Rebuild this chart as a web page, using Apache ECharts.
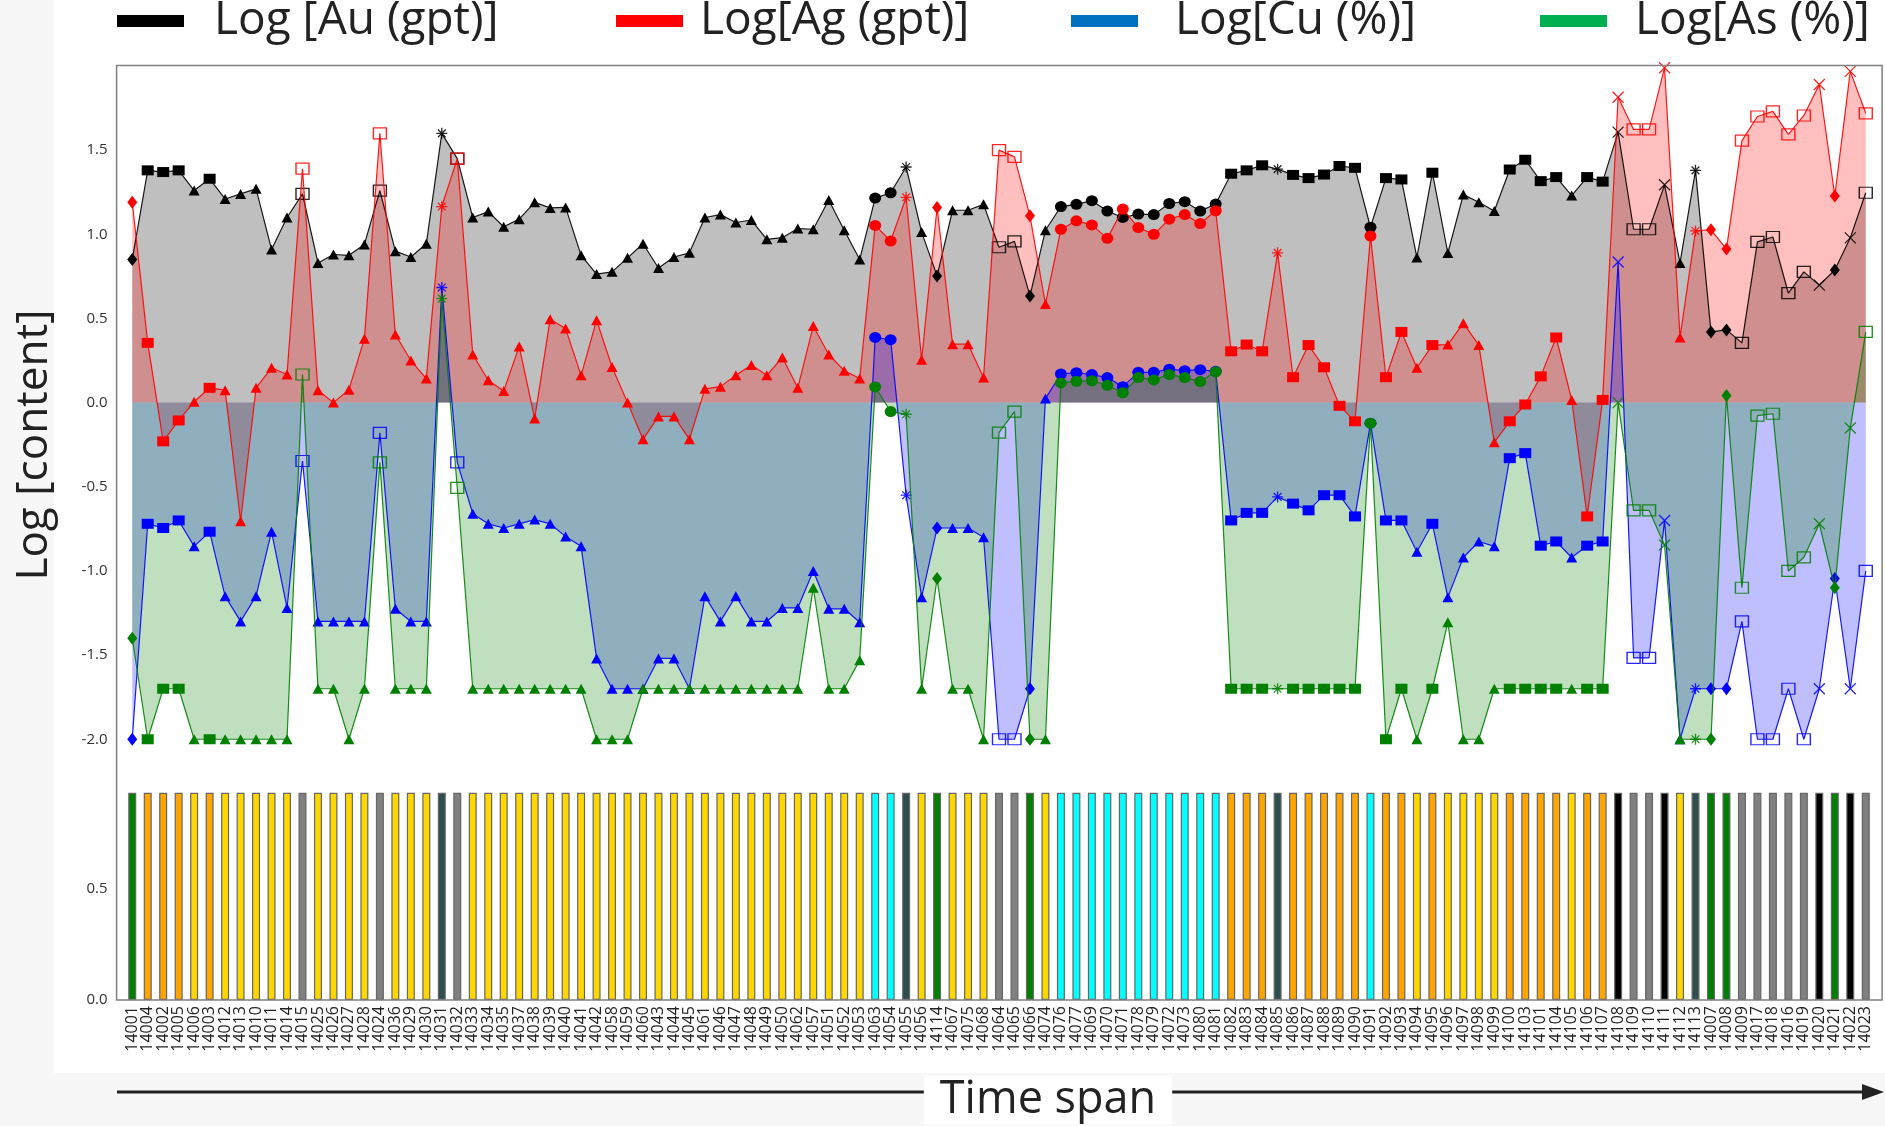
<!DOCTYPE html>
<html>
<head>
<meta charset="utf-8">
<script src="https://cdn.jsdelivr.net/npm/echarts@6/dist/echarts.min.js"></script>
<style>
html,body{margin:0;padding:0;background:#f7f7f7;}
#chart{width:1885px;height:1126px;}
</style>
</head>
<body>
<div id="chart"></div>
<script>
// ---------- DATA ----------
const samples = [
'14001','14004','14002','14005','14006','14003','14012','14013','14010','14011',
'14014','14015','14025','14026','14027','14028','14024','14036','14029','14030',
'14031','14032','14033','14034','14035','14037','14038','14039','14040','14041',
'14042','14058','14059','14060','14043','14044','14045','14061','14046','14047',
'14048','14049','14050','14062','14057','14051','14052','14053','14063','14054',
'14055','14056','14114','14067','14075','14068','14064','14065','14066','14074',
'14076','14077','14069','14070','14071','14078','14079','14072','14073','14080',
'14081','14082','14083','14084','14085','14086','14087','14088','14089','14090',
'14091','14092','14093','14094','14095','14096','14097','14098','14099','14100',
'14103','14101','14104','14105','14106','14107','14108','14109','14110','14111',
'14112','14113','14007','14008','14009','14017','14018','14016','14019','14020',
'14021','14022','14023'];

// rock / sample class per sample (drives bar colour and marker shape)
const sampleClass = [
'G','O','O','O','Y','O','Y','Y','Y','Y',
'Y','S','Y','Y','Y','Y','S','Y','Y','Y',
'D','S','Y','Y','Y','Y','Y','Y','Y','Y',
'Y','Y','Y','Y','Y','Y','Y','Y','Y','Y',
'Y','Y','Y','Y','Y','Y','Y','Y','C','C',
'D','Y','G','Y','Y','Y','S','S','G','Y',
'C','C','C','C','C','C','C','C','C','C',
'C','O','O','O','D','O','O','O','O','O',
'C','O','O','Y','O','Y','Y','Y','Y','O',
'O','O','O','Y','O','O','K','S','S','K',
'Y','D','G','G','S','S','S','S','S','K',
'G','K','S'];

const logAu = [
0.85,1.38,1.37,1.38,1.26,1.33,1.21,1.24,1.27,0.91,
1.10,1.24,0.83,0.88,0.875,0.94,1.26,0.90,0.865,0.944,
1.60,1.45,1.10,1.135,1.045,1.09,1.19,1.157,1.16,0.875,
0.764,0.777,0.86,0.944,0.80,0.865,0.89,1.10,1.117,1.07,
1.085,0.97,0.98,1.034,1.03,1.204,1.024,0.85,1.215,1.247,
1.40,1.013,0.753,1.143,1.143,1.178,0.923,0.958,0.634,1.024,
1.165,1.178,1.20,1.138,1.10,1.12,1.117,1.183,1.194,1.138,
1.18,1.36,1.38,1.41,1.387,1.353,1.334,1.355,1.406,1.395,
1.042,1.334,1.326,0.862,1.366,0.889,1.236,1.19,1.138,1.385,
1.443,1.316,1.34,1.23,1.34,1.313,1.607,1.03,1.03,1.294,
0.83,1.38,0.42,0.432,0.355,0.955,0.984,0.65,0.777,0.698,
0.788,0.979,1.247];

const logAg = [
1.19,0.355,-0.23,-0.106,0.005,0.088,0.074,-0.705,0.088,0.207,
0.167,1.39,0.074,0.0,0.077,0.38,1.60,0.405,0.25,0.143,
1.165,1.45,0.286,0.133,0.069,0.334,-0.095,0.496,0.44,0.162,
0.49,0.212,0.0,-0.218,-0.082,-0.082,-0.218,0.082,0.095,0.162,
0.223,0.162,0.268,0.088,0.455,0.286,0.19,0.143,1.053,0.96,
1.22,0.255,1.16,0.347,0.347,0.149,1.50,1.46,1.11,0.586,
1.03,1.08,1.056,0.976,1.15,1.04,1.0,1.09,1.117,1.064,
1.14,0.305,0.345,0.305,0.89,0.151,0.342,0.21,-0.019,-0.111,
0.99,0.151,0.42,0.207,0.342,0.345,0.472,0.342,-0.236,-0.111,
-0.011,0.156,0.387,0.016,-0.676,0.016,1.814,1.623,1.623,1.99,
0.387,1.02,1.027,0.912,1.557,1.70,1.73,1.594,1.706,1.89,
1.228,1.968,1.719];

const logCu = [
-2.0,-0.72,-0.745,-0.70,-0.854,-0.767,-1.15,-1.30,-1.15,-0.767,
-1.22,-0.347,-1.30,-1.30,-1.30,-1.30,-0.18,-1.225,-1.30,-1.30,
0.684,-0.355,-0.66,-0.72,-0.745,-0.72,-0.695,-0.72,-0.796,-0.854,
-1.52,-1.70,-1.70,-1.70,-1.52,-1.52,-1.70,-1.15,-1.30,-1.15,
-1.30,-1.30,-1.22,-1.22,-1.0,-1.225,-1.225,-1.305,0.387,0.374,
-0.55,-1.157,-0.745,-0.745,-0.745,-0.80,-2.0,-2.0,-1.70,0.024,
0.17,0.178,0.167,0.149,0.095,0.18,0.18,0.199,0.19,0.196,
0.186,-0.70,-0.655,-0.655,-0.56,-0.60,-0.64,-0.55,-0.55,-0.676,
-0.122,-0.70,-0.70,-0.886,-0.72,-1.157,-0.92,-0.825,-0.854,-0.33,
-0.30,-0.85,-0.825,-0.92,-0.85,-0.825,0.835,-1.517,-1.517,-0.70,
-2.0,-1.70,-1.70,-1.70,-1.30,-2.0,-2.0,-1.70,-2.0,-1.70,
-1.045,-1.70,-1.0];

const logAs = [
-1.40,-2.0,-1.70,-1.70,-2.0,-2.0,-2.0,-2.0,-2.0,-2.0,
-2.0,0.167,-1.70,-1.70,-2.0,-1.70,-0.355,-1.70,-1.70,-1.70,
0.618,-0.507,-1.70,-1.70,-1.70,-1.70,-1.70,-1.70,-1.70,-1.70,
-2.0,-2.0,-2.0,-1.70,-1.70,-1.70,-1.70,-1.70,-1.70,-1.70,
-1.70,-1.70,-1.70,-1.70,-1.10,-1.70,-1.70,-1.53,0.093,-0.053,
-0.069,-1.70,-1.045,-1.70,-1.70,-2.0,-0.178,-0.053,-2.0,-2.0,
0.117,0.127,0.13,0.103,0.058,0.149,0.135,0.167,0.149,0.125,
0.183,-1.70,-1.70,-1.70,-1.70,-1.70,-1.70,-1.70,-1.70,-1.70,
-0.122,-2.0,-1.70,-2.0,-1.70,-1.305,-2.0,-2.0,-1.70,-1.70,
-1.70,-1.70,-1.70,-1.70,-1.70,-1.70,0.0,-0.64,-0.64,-0.846,
-2.0,-2.0,-2.0,0.042,-1.10,-0.077,-0.066,-1.0,-0.92,-0.72,
-1.10,-0.151,0.42];

const barLevel = [
0.935,0.935,0.935,0.935,0.935,0.935,0.935,0.935,0.935,0.935,
0.935,0.935,0.935,0.935,0.935,0.935,0.935,0.935,0.935,0.935,
0.935,0.935,0.935,0.935,0.935,0.935,0.935,0.935,0.935,0.935,
0.935,0.935,0.935,0.935,0.935,0.935,0.935,0.935,0.935,0.935,
0.935,0.935,0.935,0.935,0.935,0.935,0.935,0.935,0.935,0.935,
0.935,0.935,0.935,0.935,0.935,0.935,0.935,0.935,0.935,0.935,
0.935,0.935,0.935,0.935,0.935,0.935,0.935,0.935,0.935,0.935,
0.935,0.935,0.935,0.935,0.935,0.935,0.935,0.935,0.935,0.935,
0.935,0.935,0.935,0.935,0.935,0.935,0.935,0.935,0.935,0.935,
0.935,0.935,0.935,0.935,0.935,0.935,0.935,0.935,0.935,0.935,
0.935,0.935,0.935,0.935,0.935,0.935,0.935,0.935,0.935,0.935,
0.935,0.935,0.935];

const seriesNames = ['Log [Au (gpt)]','Log[Ag (gpt)]','Log[Cu (%)]','Log[As (%)]'];
const yTicks = ['1.5','1.0','0.5','0.0','-0.5','-1.0','-1.5','-2.0'];

// ---------- STYLE ----------
const FONT = '"Open Sans", "Liberation Sans", Arial, sans-serif';
const classColor = {G:'#008000',O:'#ffa500',Y:'#ffd700',S:'#808080',D:'#2f4f4f',C:'#00ffff',K:'#000000'};
const ASTER = 'path://M5,0L5,10M0,5L10,5M1.5,1.5L8.5,8.5M8.5,1.5L1.5,8.5';
const CROSS = 'path://M0,0L10,10M10,0L0,10';
const classMarker = {
  G:{symbol:'diamond',size:[10,13],hollow:false},
  O:{symbol:'rect',size:[12,10],hollow:false},
  Y:{symbol:'triangle',size:[11,10],hollow:false},
  S:{symbol:'rect',size:[13,11],hollow:true},
  D:{symbol:ASTER,size:[11,11],hollow:true},
  C:{symbol:'circle',size:[12,11],hollow:false},
  K:{symbol:CROSS,size:[11,11],hollow:true}
};

function buildPoints(values, color){
  return values.map((v,i)=>{
    const m = classMarker[sampleClass[i]];
    return {
      value: v,
      symbol: m.symbol,
      symbolSize: m.size,
      itemStyle: m.hollow
        ? {color:'rgba(0,0,0,0)', borderColor: color, borderWidth: 1.3, opacity: 0.85}
        : {color: color, borderWidth: 0}
    };
  });
}

const lineColors = ['#000000','#ff0000','#0000ff','#008000'];
const fillColors = ['rgba(0,0,0,0.25)','rgba(255,0,0,0.25)','rgba(0,0,255,0.25)','rgba(0,128,0,0.25)'];
const legendColors = ['#000000','#ff0000','#0070c0','#00b050'];
const allValues = [logAu, logAg, logCu, logAs];

const legendLeft = [117, 616, 1071, 1540];
const legendPad = [25, 12, 32, 23];

// shaded areas (drawn first, under every line and marker)
const areaSeries = allValues.map((vals,k)=>({
  type:'line',
  xAxisIndex:0, yAxisIndex:0,
  data: vals,
  symbol:'none',
  lineStyle:{width:0, opacity:0},
  areaStyle:{color: fillColors[k], origin:'auto', opacity: 1},
  z: 1,
  silent:true,
  animation:false
}));

// lines with markers
const lineSeries = allValues.map((vals,k)=>({
  type:'line',
  name: seriesNames[k],
  xAxisIndex:0, yAxisIndex:0,
  data: buildPoints(vals, lineColors[k]),
  showAllSymbol: true,
  lineStyle:{color: lineColors[k], width: 1.2, opacity: 0.9},
  itemStyle:{color: lineColors[k]},
  z: 3 + k,
  animation:false
}));

const barSeries = {
  type:'bar',
  xAxisIndex:1, yAxisIndex:1,
  data: barLevel.map((v,i)=>({value:v, itemStyle:{color: classColor[sampleClass[i]]}})),
  barWidth: 8,
  itemStyle:{borderColor:'#666', borderWidth:1.2},
  animation:false
};

const GRID_L = 124.5, GRID_W = 1749;

const option = {
  backgroundColor:'transparent',
  animation:false,
  textStyle:{fontFamily: FONT},
  legend: seriesNames.map((n,k)=>({
    left: legendLeft[k], top: -2, padding: 0,
    icon:'rect', itemWidth: 67, itemHeight: 12, itemGap: 0,
    selectedMode:false,
    data:[{name:n, itemStyle:{color: legendColors[k], borderWidth:0}}],
    textStyle:{fontSize:46, color:'#222', fontFamily: FONT, padding:[0,0,0,legendPad[k]]}
  })),
  grid:[
    {left: GRID_L, width: GRID_W, top: 66, height: 757.4, show:false},
    {left: GRID_L, width: GRID_W, top: 785, height: 215, show:false}
  ],
  xAxis:[
    {gridIndex:0, type:'category', data: samples, boundaryGap:true, show:false},
    {gridIndex:1, type:'category', data: samples, boundaryGap:true,
     axisLine:{show:false}, axisTick:{show:false},
     axisLabel:{interval:0, rotate:90, fontSize:16, color:'#222', margin:6, fontFamily: FONT}}
  ],
  yAxis:[
    {gridIndex:0, type:'value', min:-2.5, max:2.0, interval:0.5,
     splitLine:{show:false}, axisLine:{show:false}, axisTick:{show:false},
     axisLabel:{showMinLabel:false, showMaxLabel:false, fontSize:15, color:'#333', margin:17, fontFamily: FONT,
       formatter:(v)=>{ const s = v.toFixed(1); return yTicks.indexOf(s)>=0 ? s : ''; }}},
    {gridIndex:1, type:'value', min:0, max:0.97, interval:0.5,
     splitLine:{show:false}, axisLine:{show:false}, axisTick:{show:false},
     axisLabel:{showMaxLabel:false, fontSize:15, color:'#333', margin:17, fontFamily: FONT,
       formatter:(v)=>v.toFixed(1)}}
  ],
  graphic:[
    {type:'rect', silent:true, z:-100, shape:{x:54, y:0, width:1831, height:1073}, style:{fill:'#ffffff'}},
    {type:'rect', silent:true, z:100, shape:{x:116.6, y:65.5, width:1765.5, height:934.5},
     style:{fill:'none', stroke:'#808080', lineWidth:1.5}},
    {type:'text', silent:true, x:34, y:445, rotation: Math.PI/2,
     style:{text:'Log [content]', fontSize:44, fontFamily: FONT, fill:'#222', align:'center', verticalAlign:'middle'}},
    {type:'line', silent:true, z:50, shape:{x1:117, y1:1092, x2:1866, y2:1092}, style:{stroke:'#222', lineWidth:3}},
    {type:'polygon', silent:true, z:50, shape:{points:[[1884,1092],[1862,1084],[1862,1100]]}, style:{fill:'#222'}},
    {type:'text', silent:true, z:60, x:1048, y:1100,
     style:{text:'Time span', fontSize:45, fontFamily: FONT, fill:'#222', align:'center', verticalAlign:'middle',
            backgroundColor:'#ffffff', padding:[2,16,2,16]}}
  ],
  series: [...areaSeries, ...lineSeries, barSeries]
};

const chart = echarts.init(document.getElementById('chart'), null, {renderer:'canvas'});
chart.setOption(option);
</script>
</body>
</html>
